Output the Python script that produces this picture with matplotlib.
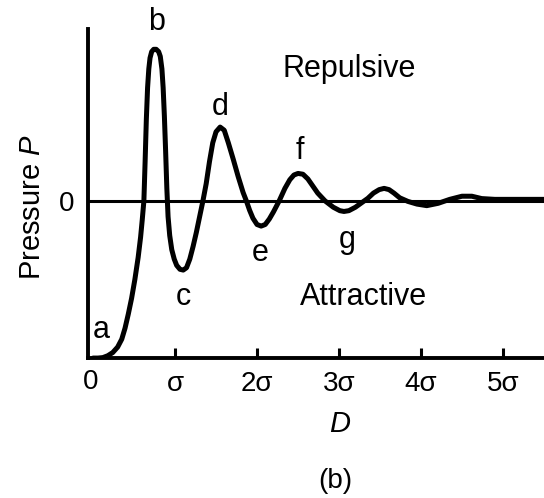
import matplotlib
matplotlib.use("Agg")
import matplotlib.pyplot as plt

plt.rcParams['font.family'] = ['Liberation Sans', 'DejaVu Sans']
plt.rcParams['mathtext.fontset'] = 'custom'
plt.rcParams['mathtext.it'] = 'Liberation Sans:italic'
plt.rcParams['mathtext.rm'] = 'Liberation Sans'

# Separation D (in units of sigma) and pressure P (relative, bottom = -1)
D = [0.0, 0.06, 0.12, 0.18, 0.24, 0.30, 0.35, 0.39, 0.43, 0.47, 0.51, 0.55, 0.58, 0.60,
     0.62, 0.635, 0.65, 0.665, 0.68, 0.695, 0.715, 0.74, 0.77, 0.80, 0.82, 0.84, 0.855,
     0.87, 0.885, 0.90, 0.915, 0.935, 0.96, 0.99, 1.02, 1.06, 1.10, 1.14, 1.18, 1.22,
     1.26, 1.30, 1.34, 1.38, 1.42, 1.46, 1.50, 1.55, 1.60, 1.65, 1.71, 1.77, 1.83, 1.87,
     1.91, 1.95, 2.00, 2.05, 2.10, 2.15, 2.20, 2.27, 2.34, 2.40, 2.45, 2.50, 2.56, 2.62,
     2.68, 2.74, 2.83, 2.93, 3.01, 3.06, 3.12, 3.20, 3.28, 3.35, 3.42, 3.49, 3.55, 3.61,
     3.67, 3.74, 3.84, 3.95, 4.07, 4.21, 4.35, 4.50, 4.62, 4.74, 4.90, 5.50]
P = [-1.0, -1.0, -0.997, -0.985, -0.965, -0.93, -0.88, -0.81, -0.72, -0.62, -0.50, -0.36, -0.23, -0.12,
     0.0, 0.25, 0.52, 0.72, 0.84, 0.91, 0.95, 0.965, 0.965, 0.95, 0.92, 0.84, 0.72,
     0.54, 0.32, 0.08, -0.10, -0.22, -0.31, -0.37, -0.41, -0.435, -0.44, -0.425, -0.37, -0.29,
     -0.20, -0.10, 0.0, 0.11, 0.25, 0.37, 0.44, 0.47, 0.45, 0.37, 0.265, 0.155, 0.054, 0.0,
     -0.06, -0.11, -0.15, -0.16, -0.15, -0.115, -0.07, 0.0, 0.08, 0.135, 0.165, 0.175, 0.17, 0.14,
     0.095, 0.05, 0.0, -0.04, -0.062, -0.067, -0.062, -0.04, -0.01, 0.016, 0.05, 0.072, 0.08, 0.072,
     0.05, 0.02, -0.003, -0.02, -0.03, -0.015, 0.01, 0.03, 0.03, 0.015, 0.01, 0.01]

tick_pos = [0, 1, 2, 3, 4, 5]
tick_labels = ['0', 'σ', '2σ', '3σ', '4σ', '5σ']

point_labels = ['a', 'b', 'c', 'd', 'e', 'f', 'g']
label_D = [0.10, 0.78, 1.10, 1.55, 2.04, 2.52, 3.10]
label_P = [-0.82, 1.14, -0.61, 0.60, -0.33, 0.32, -0.25]

fig = plt.figure(figsize=(5.44, 4.98), dpi=100)
ax = fig.add_axes([0.162, 0.281, 0.838, 0.661])
ax.set_xlim(-0.06, 5.5)
ax.set_ylim(-1.0, 1.095)

ax.axhline(0, color='black', lw=2.2, zorder=2)
ax.plot(D, P, color='black', lw=3.6, solid_joinstyle='round', solid_capstyle='round', zorder=3)

for s in ['top', 'right']:
    ax.spines[s].set_visible(False)
for s in ['left', 'bottom']:
    ax.spines[s].set_linewidth(2.8)

ax.set_xticks(tick_pos[1:])
ax.set_xticklabels(tick_labels[1:], fontsize=20)
ax.tick_params(axis='x', direction='in', length=7, width=2.2, pad=9)
ax.set_yticks([0])
ax.set_yticklabels(['0'], fontsize=20)
ax.tick_params(axis='y', length=0, pad=10)
# the "0" on the D axis
ax.text(-0.03, -1.07, tick_labels[0], fontsize=20, ha='center', va='top', clip_on=False)

for lab, x, y in zip(point_labels, label_D, label_P):
    ax.text(x, y, lab, fontsize=22, ha='center', va='center', clip_on=False)

ax.text(3.12, 0.84, 'Repulsive', fontsize=22, ha='center', va='center')
ax.text(3.30, -0.61, 'Attractive', fontsize=22, ha='center', va='center')

fig.text(32 / 544, 1 - 207 / 498, 'Pressure $P$', rotation=90, fontsize=21,
         ha='center', va='center')
fig.text(340 / 544, 1 - 424 / 498, '$D$', fontsize=21, ha='center', va='center')
fig.text(335 / 544, 1 - 481 / 498, '(b)', fontsize=20, ha='center', va='center')

fig.savefig('out.png', dpi=100)
